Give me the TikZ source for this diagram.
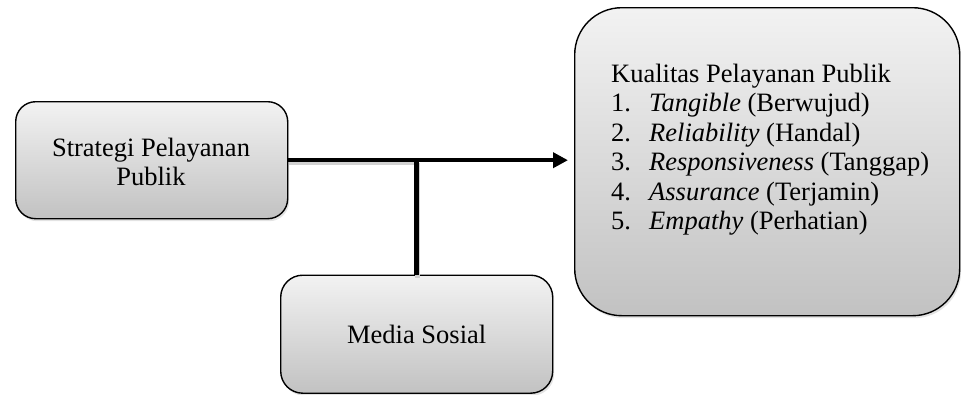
\documentclass[tikz,border=0pt]{standalone}
\usepackage{fontspec}
\setmainfont{Liberation Serif}
\usetikzlibrary{arrows.meta,shadows}
\begin{document}
\begin{tikzpicture}[x=1pt,y=-1pt,
  box/.style={draw=black,line width=1.4pt,top color=white!95!black,bottom color=white!76!black,
    drop shadow={opacity=0.22,shadow xshift=1.5pt,shadow yshift=-2.5pt}},
  txt/.style={font=\fontsize{26.5}{29.5}\selectfont,inner sep=0pt},
  conn/.style={line width=4.5pt,draw=black},
  connshadow/.style={line width=4.5pt,draw=black!18,transform canvas={shift={(1pt,-3pt)}}}]
\useasboundingbox (0,0) rectangle (961,394);
% boxes
\node[box,rounded corners=20pt,minimum width=272pt,minimum height=117pt,anchor=north west] (L) at (15,101) {};
\node[box,rounded corners=47pt,minimum width=385pt,minimum height=308pt,anchor=north west] (R) at (574,7) {};
\node[box,rounded corners=22pt,minimum width=272pt,minimum height=118pt,anchor=north west,
  font=\fontsize{26.5}{29.5}\selectfont] (M) at (280,274.5) {Media Sosial};
% texts
\node[txt,align=center,anchor=base,font=\fontsize{26.5}{28.5}\selectfont] (Lt) at (151,185.2) {Strategi Pelayanan\\Publik};
\node[txt,align=left,anchor=base west] (Rt) at (611,229.5) {Kualitas Pelayanan Publik\\
\makebox[38pt][l]{1.}\textit{Tangible} (Berwujud)\\
\makebox[38pt][l]{2.}\textit{Reliability} (Handal)\\
\makebox[38pt][l]{3.}\textit{Responsiveness} (Tanggap)\\
\makebox[38pt][l]{4.}\textit{Assurance} (Terjamin)\\
\makebox[38pt][l]{5.}\textit{Empathy} (Perhatian)};
% connectors shadows
\coordinate (J) at (M.north |- L.east);
\draw[connshadow] (L.east) -- (J);
\draw[connshadow] (J) -- (M.north);
% connectors
\draw[conn,-{Triangle[length=15pt,width=15pt]},shorten >=6pt] (L.east) -- (L.east -| R.west);
\draw[conn] (M.north) -- (J);
\end{tikzpicture}
\end{document}
